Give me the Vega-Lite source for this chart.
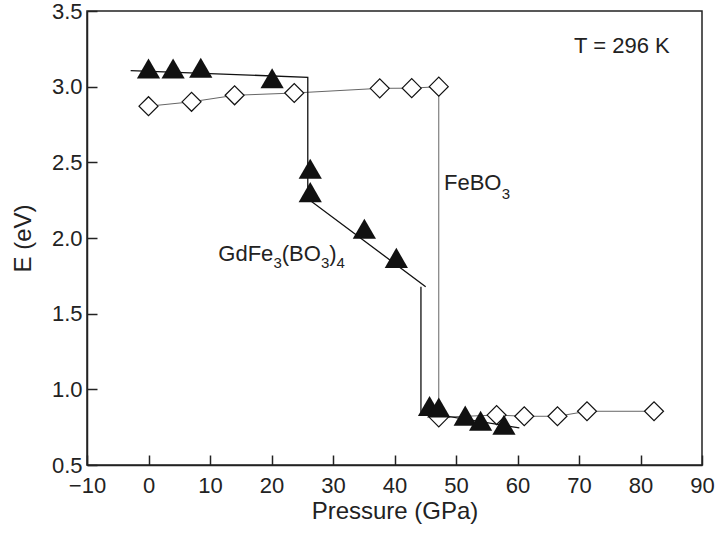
{
  "$schema": "https://vega.github.io/schema/vega-lite/v6.json",
  "width": 615,
  "height": 454,
  "autosize": {"type": "none"},
  "padding": {"left": 87, "top": 11, "right": 13, "bottom": 69},
  "background": "white",
  "config": {
    "view": {"stroke": "#222", "strokeWidth": 1.5},
    "font": "Liberation Sans"
  },
  "datasets": {
    "tri": [
      {"p": 0, "e": 3.12}, {"p": 4, "e": 3.12}, {"p": 8.5, "e": 3.125},
      {"p": 20.1, "e": 3.056}, {"p": 26.3, "e": 2.458}, {"p": 26.3, "e": 2.303},
      {"p": 35.1, "e": 2.061}, {"p": 40.3, "e": 1.869}, {"p": 45.7, "e": 0.89},
      {"p": 47.2, "e": 0.88}, {"p": 51.5, "e": 0.826}, {"p": 54, "e": 0.792},
      {"p": 57.8, "e": 0.766}
    ],
    "dia": [
      {"p": 0, "e": 2.871, "o": 1}, {"p": 7, "e": 2.9, "o": 2}, {"p": 14, "e": 2.943, "o": 3},
      {"p": 23.7, "e": 2.958, "o": 4}, {"p": 37.6, "e": 2.989, "o": 5}, {"p": 42.8, "e": 2.99, "o": 6},
      {"p": 47.2, "e": 3.0, "o": 7}, {"p": 47.2, "e": 0.815, "o": 8}, {"p": 56.6, "e": 0.83, "o": 9},
      {"p": 61.1, "e": 0.822, "o": 10}, {"p": 66.5, "e": 0.822, "o": 11}, {"p": 71.3, "e": 0.855, "o": 12},
      {"p": 82.2, "e": 0.855, "o": 13}
    ],
    "fit": [
      {"p": -2.9, "e": 3.106, "s": "a", "o": 1},
      {"p": 25.9, "e": 3.062, "s": "a", "o": 2},
      {"p": 25.9, "e": 2.26, "s": "a", "o": 3},
      {"p": 45.07, "e": 1.678, "s": "a", "o": 4},
      {"p": 44.3, "e": 1.678, "s": "b", "o": 5},
      {"p": 44.3, "e": 0.85, "s": "b", "o": 6},
      {"p": 60.3, "e": 0.745, "s": "b", "o": 7}
    ],
    "labels": [
      {"p": 69.2, "e": 3.221, "t": "T = 296 K", "k": "main"},
      {"p": 11.35, "e": 1.845, "t": "GdFe", "k": "main"},
      {"p": 20.31, "e": 1.8, "t": "3", "k": "sub"},
      {"p": 21.66, "e": 1.845, "t": "(BO", "k": "main"},
      {"p": 28.03, "e": 1.8, "t": "3", "k": "sub"},
      {"p": 29.38, "e": 1.845, "t": ")", "k": "main"},
      {"p": 30.57, "e": 1.8, "t": "4", "k": "sub"},
      {"p": 48.05, "e": 2.318, "t": "FeBO", "k": "main"},
      {"p": 57.45, "e": 2.255, "t": "3", "k": "sub"}
    ]
  },
  "layer": [
    {
      "data": {"name": "dia"},
      "mark": {"type": "line", "color": "#666", "strokeWidth": 1},
      "encoding": {
        "x": {
          "field": "p", "type": "quantitative",
          "scale": {"domain": [-10, 90], "nice": false, "zero": false},
          "axis": {
            "title": "Pressure (GPa)",
            "values": [-10, -5, 0, 5, 10, 15, 20, 25, 30, 35, 40, 45, 50, 55, 60, 65, 70, 75, 80, 85, 90],
            "tickSize": {"condition": {"test": "datum.value % 10 === 0", "value": -10}, "value": -5},
            "labelExpr": "datum.value % 10 === 0 ? datum.label : ''",
            "grid": false,
            "domainColor": "#222", "domainWidth": 1.5,
            "tickColor": "#222", "tickWidth": 1.5,
            "labelFont": "Liberation Sans", "labelFontSize": 22, "labelColor": "#222",
            "labelPadding": 20, "labelFlush": false, "labelOverlap": false,
            "titleFont": "Liberation Sans", "titleFontSize": 24, "titleFontWeight": "normal",
            "titleColor": "#222", "titlePadding": 3
          }
        },
        "y": {
          "field": "e", "type": "quantitative",
          "scale": {"domain": [0.5, 3.5], "nice": false, "zero": false},
          "axis": {
            "title": "E (eV)",
            "values": [0.5, 0.75, 1, 1.25, 1.5, 1.75, 2, 2.25, 2.5, 2.75, 3, 3.25, 3.5],
            "tickSize": {"condition": {"test": "datum.value % 0.5 === 0", "value": -10}, "value": -5},
            "labelExpr": "datum.value % 0.5 === 0 ? format(datum.value, '.1f') : ''",
            "grid": false,
            "domainColor": "#222", "domainWidth": 1.5,
            "tickColor": "#222", "tickWidth": 1.5,
            "labelFont": "Liberation Sans", "labelFontSize": 22, "labelColor": "#222",
            "labelPadding": 15, "labelFlush": false, "labelOverlap": false,
            "titleFont": "Liberation Sans", "titleFontSize": 24, "titleFontWeight": "normal",
            "titleColor": "#222", "titlePadding": 16
          }
        },
        "order": {"field": "o", "type": "quantitative"}
      }
    },
    {
      "data": {"name": "fit"},
      "mark": {"type": "line", "color": "#111", "strokeWidth": 1.3},
      "encoding": {
        "x": {"field": "p", "type": "quantitative"},
        "y": {"field": "e", "type": "quantitative"},
        "detail": {"field": "s", "type": "nominal"},
        "order": {"field": "o", "type": "quantitative"}
      }
    },
    {
      "data": {"name": "dia"},
      "mark": {"type": "point", "shape": "diamond", "filled": true, "fill": "white", "stroke": "#111", "strokeWidth": 1.2, "size": 360, "opacity": 1},
      "encoding": {
        "x": {"field": "p", "type": "quantitative"},
        "y": {"field": "e", "type": "quantitative"}
      }
    },
    {
      "data": {"name": "tri"},
      "mark": {"type": "point", "shape": "triangle-up", "filled": true, "color": "#111", "size": 540, "opacity": 1},
      "encoding": {
        "x": {"field": "p", "type": "quantitative"},
        "y": {"field": "e", "type": "quantitative"}
      }
    },
    {
      "data": {"name": "labels"},
      "transform": [{"filter": "datum.k === 'main'"}],
      "mark": {"type": "text", "align": "left", "baseline": "alphabetic", "fontSize": 22, "font": "Liberation Sans", "color": "#222"},
      "encoding": {
        "x": {"field": "p", "type": "quantitative"},
        "y": {"field": "e", "type": "quantitative"},
        "text": {"field": "t"}
      }
    },
    {
      "data": {"name": "labels"},
      "transform": [{"filter": "datum.k === 'sub'"}],
      "mark": {"type": "text", "align": "left", "baseline": "alphabetic", "fontSize": 15, "font": "Liberation Sans", "color": "#222"},
      "encoding": {
        "x": {"field": "p", "type": "quantitative"},
        "y": {"field": "e", "type": "quantitative"},
        "text": {"field": "t"}
      }
    }
  ]
}
